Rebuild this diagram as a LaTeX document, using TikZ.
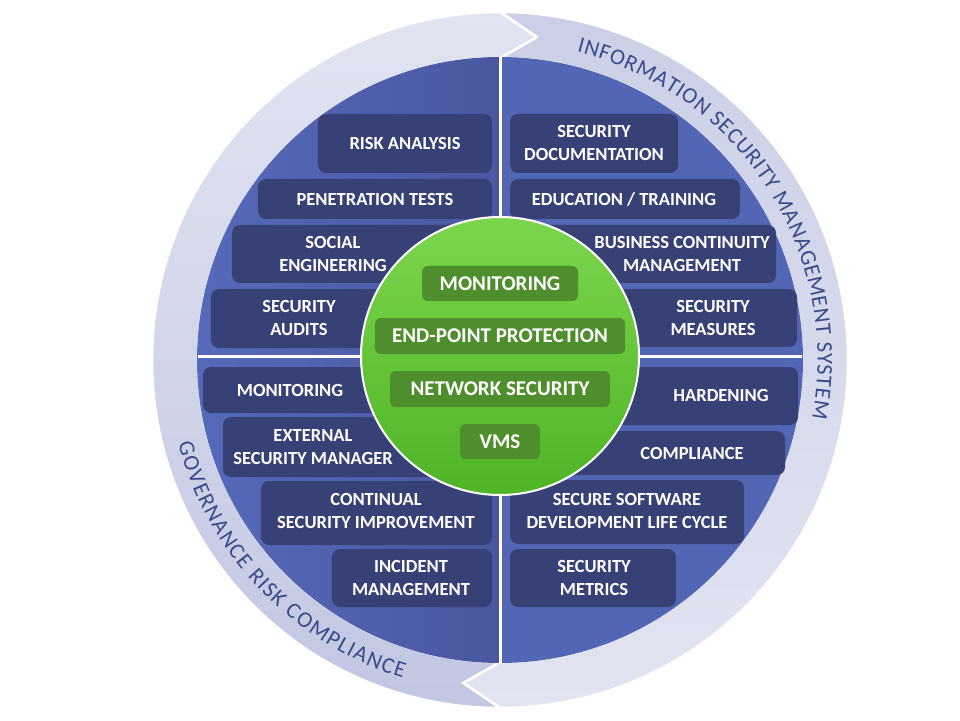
\documentclass[tikz,border=0pt]{standalone}
\usepackage{fontspec}
\setmainfont{Carlito}
\usetikzlibrary{decorations.text}

\definecolor{ringlight}{HTML}{E2E4F1}
\definecolor{ringdark}{HTML}{C2C7E2}
\definecolor{ringtext}{HTML}{3A4A8C}
\definecolor{discouter}{HTML}{5669BA}
\definecolor{discinner}{HTML}{4A57A0}
\definecolor{discright}{HTML}{5366B5}
\definecolor{boxnavy}{HTML}{384175}
\definecolor{greentop}{HTML}{7CD64D}
\definecolor{greenbottom}{HTML}{4FB426}
\definecolor{greenbox}{HTML}{4E8E2D}

\newcommand\ringfont{\color{ringtext}\fontsize{22.5}{22.5}\selectfont}

\begin{document}
\begin{tikzpicture}[x=1pt,y=1pt,line join=round,
  areabox/.style={fill=boxnavy,rounded corners=8pt},
  boxlabel/.style={text=white,align=center,inner sep=0pt,
    font=\bfseries\fontsize{18.5}{22.5}\selectfont},
  corebox/.style={fill=greenbox,rounded corners=6pt,text=white,inner sep=0pt,
    font=\bfseries\fontsize{21}{21}\selectfont}]

  \def\Rin{302}
  \def\Rout{348}
  \def\Rmid{325}
  \def\tip{6.5}

  \useasboundingbox (-500,-360) rectangle (460,360);

  % outer ring: ISMS arrow (right half, clockwise from the top)
  \shade[top color=ringdark!70!ringlight,bottom color=ringlight,draw=white,line width=2.5pt]
    (90:\Rout) arc[start angle=90,end angle=-90,radius=\Rout]
    -- ({-90-\tip}:\Rmid) -- (-90:\Rin)
    arc[start angle=-90,end angle=90,radius=\Rin]
    -- ({90-\tip}:\Rmid) -- cycle;

  % outer ring: GRC arrow (left half, from the bottom up)
  \shade[top color=ringlight,bottom color=ringdark,draw=white,line width=2.5pt]
    (270:\Rout) arc[start angle=270,end angle=90,radius=\Rout]
    -- ({90-\tip}:\Rmid) -- (90:\Rin)
    arc[start angle=90,end angle=270,radius=\Rin]
    -- ({270-\tip}:\Rmid) -- cycle;

  % ring labels
  \path[decorate,decoration={text along path,text align={fit to path},
    text={|\ringfont|INFORMATION SECURITY MANAGEMENT SYSTEM}}]
    (76:317.5) arc[start angle=76,end angle=-10.5,radius=317.5];
  \path[decorate,decoration={text along path,text align={fit to path},
    text={|\ringfont|GOVERNANCE RISK COMPLIANCE}}]
    (194.5:332.5) arc[start angle=194.5,end angle=253,radius=332.5];

  % main disc (two halves)
  \shade[left color=discouter,right color=discinner]
    (90:303) arc[start angle=90,end angle=270,radius=303] -- cycle;
  \fill[discright] (-90:303) arc[start angle=-90,end angle=90,radius=303] -- cycle;

  % quadrant dividers
  \draw[white,line width=3pt] (0,-303) -- (0,303);
  \draw[white,line width=3pt] (-302,4) -- (302,4);

  % upper left quadrant
  \fill[areabox] (-182,246) rectangle (-8,187);
  \fill[areabox] (-242,181) rectangle (-8,141);
  \fill[areabox] (-268,135) rectangle (-8,77);
  \fill[areabox] (-289,71) rectangle (-8,12);
  \node[boxlabel] (risk) at (-95,217) {RISK ANALYSIS};
  \node[boxlabel] (pentest) at (-125,161) {PENETRATION TESTS};
  \node[boxlabel] (social) at (-167,106) {SOCIAL\\ENGINEERING};
  \node[boxlabel] (audits) at (-201,42) {SECURITY\\AUDITS};

  % upper right quadrant
  \fill[areabox] (10,246) rectangle (178,187);
  \fill[areabox] (10,181) rectangle (240,141);
  \fill[areabox] (10,135) rectangle (276,77);
  \fill[areabox] (10,71) rectangle (297,13);
  \node[boxlabel] (docs) at (94,217) {SECURITY\\DOCUMENTATION};
  \node[boxlabel] (training) at (124,161) {EDUCATION / TRAINING};
  \node[boxlabel] (bcm) at (182,106) {BUSINESS CONTINUITY\\MANAGEMENT};
  \node[boxlabel] (measures) at (213,42) {SECURITY\\MEASURES};

  % lower left quadrant
  \fill[areabox] (-297,-7) rectangle (-8,-53);
  \fill[areabox] (-277,-57) rectangle (-8,-117);
  \fill[areabox] (-239,-121) rectangle (-8,-185);
  \fill[areabox] (-168,-189) rectangle (-8,-247);
  \node[boxlabel] (monitor) at (-210,-30) {MONITORING};
  \node[boxlabel] (esm) at (-187,-87) {EXTERNAL\\SECURITY MANAGER};
  \node[boxlabel] (improve) at (-124,-151) {CONTINUAL\\SECURITY IMPROVEMENT};
  \node[boxlabel] (incident) at (-89,-218) {INCIDENT\\MANAGEMENT};

  % lower right quadrant
  \fill[areabox] (10,-7) rectangle (298,-65);
  \fill[areabox] (10,-71) rectangle (285,-115);
  \fill[areabox] (10,-120) rectangle (244,-184);
  \fill[areabox] (10,-189) rectangle (176,-247);
  \node[boxlabel] (harden) at (221,-35) {HARDENING};
  \node[boxlabel] (comply) at (192,-93) {COMPLIANCE};
  \node[boxlabel] (ssdlc) at (127,-151) {SECURE SOFTWARE\\DEVELOPMENT LIFE CYCLE};
  \node[boxlabel] (metrics) at (94,-218) {SECURITY\\METRICS};

  % green core
  \shade[top color=greentop,bottom color=greenbottom,draw=white,line width=2pt]
    (0,4) circle (139);
  \node[corebox,minimum width=156pt,minimum height=35pt] (coremon) at (0,76.5) {MONITORING};
  \node[corebox,minimum width=250pt,minimum height=36pt] (endpoint) at (0,24) {END-POINT PROTECTION};
  \node[corebox,minimum width=220pt,minimum height=36pt] (netsec) at (0,-29) {NETWORK SECURITY};
  \node[corebox,minimum width=80pt,minimum height=35pt] (vms) at (0,-81.5) {VMS};
\end{tikzpicture}
\end{document}
